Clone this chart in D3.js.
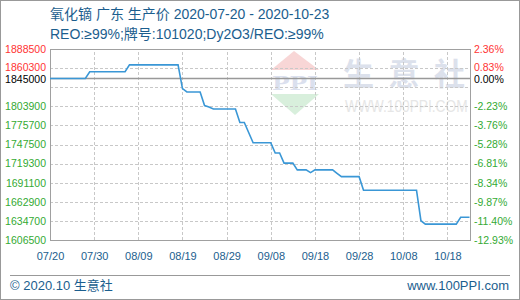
<!DOCTYPE html>
<html>
<head>
<meta charset="utf-8">
<script src="https://cdn.jsdelivr.net/npm/d3@7"></script>
<style>
body { margin: 0; background: #fff; }
svg { display: block; }
</style>
</head>
<body>
<div id="grafico"></div>
<script>
// DATOS
var dates = ['2020-07-20', '2020-07-28', '2020-07-29', '2020-08-06', '2020-08-07', '2020-08-18', '2020-08-19',
    '2020-08-20', '2020-08-23', '2020-08-24', '2020-08-25', '2020-08-26', '2020-08-31', '2020-09-01', '2020-09-02',
    '2020-09-04', '2020-09-08', '2020-09-09', '2020-09-10', '2020-09-11', '2020-09-13', '2020-09-14', '2020-09-16',
    '2020-09-17', '2020-09-18', '2020-09-22', '2020-09-23', '2020-09-24', '2020-09-28', '2020-09-29', '2020-10-11',
    '2020-10-12', '2020-10-13', '2020-10-20', '2020-10-21', '2020-10-23'];
var prices = [1845000, 1845000, 1855000, 1855000, 1865000, 1865000, 1830000,
    1825000, 1825000, 1805000, 1803000, 1800000, 1800000, 1780000, 1780000,
    1750000, 1750000, 1735000, 1735000, 1720000, 1720000, 1710000, 1710000,
    1706000, 1710000, 1710000, 1705000, 1700000, 1700000, 1680000, 1680000,
    1635000, 1630000, 1630000, 1640000, 1640000];
var ticks_x = ['07/20', '07/30', '08/09', '08/19', '08/29', '09/08', '09/18', '09/28', '10/08', '10/18'];
var ticks_y = [1606500, 1634700, 1662900, 1691100, 1719300, 1747500, 1775700, 1803900, 1832100, 1860300, 1888500];
var base_price = 1845000;
var date_start = '2020-07-20';
var date_end = '2020-10-23';

var titulo = '氧化镝 广东 生产价 2020-07-20 - 2020-10-23';
var subtitulo = 'REO:≥99%;牌号:101020;Dy2O3/REO:≥99%';
var pie_izq = '© 2020.10 生意社';
var pie_der = 'www.100PPI.com';

function graficoPrecio() {
    var chart_width = 520;
    var chart_height = 300;
    var plot_left = 50, plot_right = 471, plot_top = 49, plot_bottom = 240;
    var font = '"Liberation Sans", "Noto Sans CJK SC", sans-serif';
    var azul_texto = '#1b5e8e';
    var parseTime = d3.timeParse('%Y-%m-%d');
    var parseTick = d3.timeParse('%Y/%m/%d');

    var data = dates.map(function (d, i) { return { date: parseTime(d), price: prices[i] }; });

    var svg = d3.select('#grafico').append('svg')
        .attr('width', chart_width)
        .attr('height', chart_height);

    // ---------ESCALAS------------
    var scale_x = d3.scaleTime()
        .domain([parseTime(date_start), parseTime(date_end)])
        .range([plot_left, plot_right - 1.5]);

    var scale_y = d3.scaleLinear()
        .domain([ticks_y[0], ticks_y[ticks_y.length - 1]])
        .range([plot_bottom, plot_top]);

    // marco exterior
    svg.append('rect')
        .attr('x', 0.5).attr('y', 0.5)
        .attr('width', chart_width - 1).attr('height', chart_height - 1)
        .attr('fill', '#fff').attr('stroke', '#999');

    // ---------TITULO-----------
    svg.append('text')
        .attr('x', 50).attr('y', 19)
        .attr('font-family', font).attr('font-size', 14)
        .attr('fill', azul_texto)
        .text(titulo);

    svg.append('text')
        .attr('x', 50).attr('y', 39)
        .attr('font-family', font).attr('font-size', 14)
        .attr('fill', azul_texto)
        .text(subtitulo);

    // ---------MARCA DE AGUA-----------
    var wm = svg.append('g');
    wm.append('path')
        .attr('d', 'M294,51L319,70L271,70Z')
        .attr('fill', '#f8d6d6');
    wm.append('path')
        .attr('d', 'M271,94L319,94L295,115Z')
        .attr('fill', '#d8efdc');
    wm.append('text')
        .attr('x', 272).attr('y', 90)
        .attr('font-family', '"DejaVu Serif", serif').attr('font-size', 19).attr('font-weight', 'bold')
        .attr('textLength', 46).attr('lengthAdjust', 'spacingAndGlyphs')
        .attr('fill', '#dbe0ee')
        .text('PPI');
    wm.append('text')
        .attr('x', 343).attr('y', 85)
        .attr('font-family', '"Noto Sans CJK SC", sans-serif').attr('font-size', 31).attr('font-weight', 'bold')
        .attr('textLength', 122).attr('lengthAdjust', 'spacing')
        .attr('fill', '#dce1ec')
        .text('生意社');
    wm.append('text')
        .attr('transform', 'translate(345,112) scale(0.98,1.15)')
        .attr('font-family', font).attr('font-size', 14)
        .attr('fill', '#e6e6e6')
        .text('WWW.100PPI.COM');

    // ---------REJILLA-----------
    var tick_dates = ticks_x.map(function (t) { return parseTick('2020/' + t); });

    var grid_y = svg.append('g')
        .attr('transform', 'translate(' + plot_left + ',0)')
        .call(d3.axisLeft(scale_y).tickValues(ticks_y).tickSize(-(plot_right - plot_left)).tickFormat(''));
    grid_y.select('.domain').remove();
    grid_y.selectAll('.tick line')
        .attr('stroke', '#c8c8c8').attr('stroke-dasharray', '3,2')
        .attr('shape-rendering', 'crispEdges');

    var grid_x = svg.append('g')
        .attr('transform', 'translate(0,' + plot_bottom + ')')
        .call(d3.axisBottom(scale_x).tickValues(tick_dates.slice(1)).tickSize(-(plot_bottom - plot_top)).tickFormat(''));
    grid_x.select('.domain').remove();
    grid_x.selectAll('.tick line')
        .attr('stroke', '#c8c8c8').attr('stroke-dasharray', '3,2')
        .attr('shape-rendering', 'crispEdges');

    // linea base (precio inicial)
    svg.append('line')
        .attr('x1', plot_left).attr('x2', plot_right)
        .attr('y1', scale_y(base_price)).attr('y2', scale_y(base_price))
        .attr('stroke', '#999').attr('stroke-width', 1.5);

    // marco del grafico
    svg.append('rect')
        .attr('x', plot_left + 0.5).attr('y', plot_top + 0.5)
        .attr('width', plot_right - plot_left - 1).attr('height', plot_bottom - plot_top)
        .attr('fill', 'none').attr('stroke', '#a0a0a0');

    // ---------EJES-----------
    function color_for(v) {
        if (Math.abs(v - base_price) < 1) return '#000';
        return v > base_price ? '#ff3333' : '#33aa33';
    }
    // se oculta la etiqueta que queda pegada a la linea base
    var label_values = ticks_y.filter(function (v) {
        return Math.abs(scale_y(v) - scale_y(base_price)) > 10;
    }).concat([base_price]);

    // pequeño desplazamiento para que no se pisen las etiquetas vecinas a la base
    function nudge(v) {
        var dist = scale_y(base_price) - scale_y(v);
        if (v === base_price) return 1;
        if (dist > 0 && dist < 13) return -1.2;
        return 0;
    }

    var eje_izq = svg.append('g')
        .attr('transform', 'translate(' + (plot_left - 1) + ',0)')
        .call(d3.axisLeft(scale_y).tickValues(label_values).tickSize(0).tickPadding(3).tickFormat(d3.format('d')));
    eje_izq.attr('font-family', font).attr('font-size', 10.5);
    eje_izq.select('.domain').remove();
    eje_izq.selectAll('text').attr('fill', color_for).attr('y', nudge);

    var eje_der = svg.append('g')
        .attr('transform', 'translate(' + plot_right + ',0)')
        .call(d3.axisRight(scale_y).tickValues(label_values).tickSize(0).tickPadding(3)
            .tickFormat(function (v) { return ((v - base_price) / base_price * 100).toFixed(2) + '%'; }));
    eje_der.attr('font-family', font).attr('font-size', 10.5);
    eje_der.select('.domain').remove();
    eje_der.selectAll('text').attr('fill', color_for).attr('y', nudge);

    var eje_x = svg.append('g')
        .attr('transform', 'translate(0,' + plot_bottom + ')')
        .call(d3.axisBottom(scale_x).tickValues(tick_dates).tickSize(0).tickPadding(12).tickFormat(d3.timeFormat('%m/%d')));
    eje_x.attr('font-family', font).attr('font-size', 11);
    eje_x.select('.domain').remove();
    eje_x.selectAll('text').attr('fill', azul_texto);

    // -------LINEA DE PRECIO------
    var line = d3.line()
        .x(function (d) { return scale_x(d.date); })
        .y(function (d) { return scale_y(d.price); });

    svg.append('path')
        .attr('d', line(data))
        .attr('fill', 'none')
        .attr('stroke', '#3a97d6')
        .attr('stroke-width', 1.6);

    // ---------PIE-----------
    svg.append('line')
        .attr('x1', 10).attr('x2', 510)
        .attr('y1', 275.5).attr('y2', 275.5)
        .attr('stroke', '#999');

    svg.append('text')
        .attr('x', 10).attr('y', 290)
        .attr('font-family', font).attr('font-size', 13)
        .attr('fill', azul_texto)
        .text(pie_izq);

    svg.append('text')
        .attr('x', 509).attr('y', 290)
        .attr('text-anchor', 'end')
        .attr('font-family', font).attr('font-size', 13)
        .attr('fill', azul_texto)
        .text(pie_der);
}

graficoPrecio();
</script>
</body>
</html>
